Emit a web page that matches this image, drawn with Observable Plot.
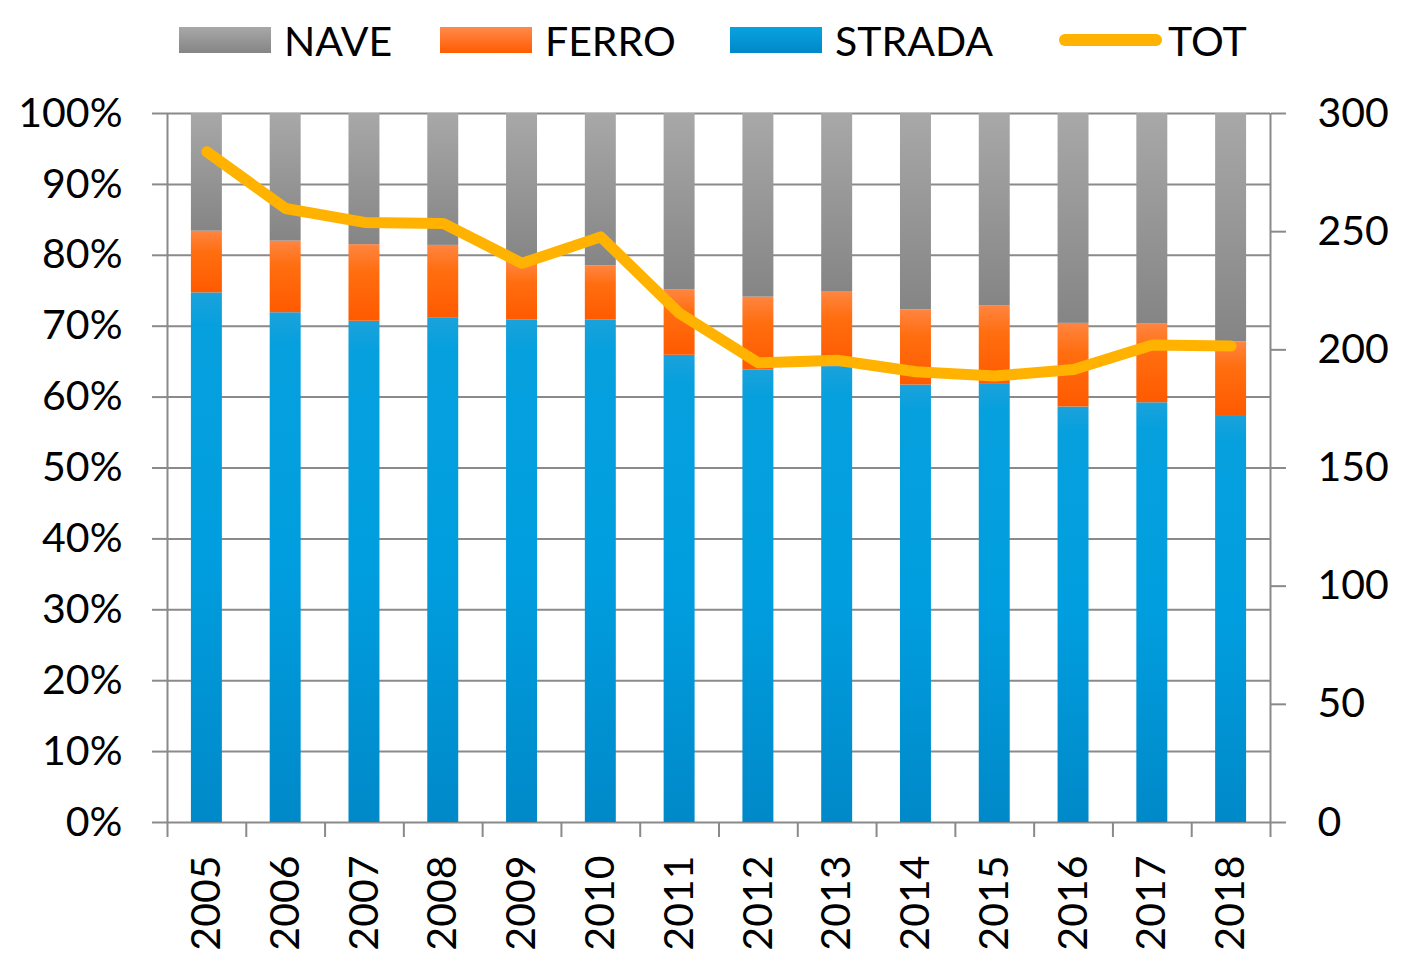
<!DOCTYPE html>
<html>
<head>
<meta charset="utf-8">
<script src="https://cdn.jsdelivr.net/npm/d3@7"></script>
<script src="https://cdn.jsdelivr.net/npm/@observablehq/plot@0.6"></script>
<style>
  body { margin: 0; background: #fff; font-family: Lato, sans-serif; }
  #legend { position: relative; width: 1404px; height: 80px; }
  .item { position: absolute; top: 0; height: 80px; display: flex; align-items: center; font-size: 41px; color: #000; white-space: nowrap; }
  .sw { width: 92px; height: 26px; margin-right: 13px; }
  .ln { width: 103px; height: 12px; border-radius: 6px; background: #ffb200; margin-right: 6px; }
  #chart svg { display: block; }
</style>
</head>
<body>
<div id="legend"></div>
<div id="chart"></div>
<script>
// ---- data ----
const years  = ["2005","2006","2007","2008","2009","2010","2011","2012","2013","2014","2015","2016","2017","2018"];
const strada = [74.7, 71.9, 70.7, 71.2, 70.9, 70.9, 65.9, 63.8, 64.3, 61.7, 61.9, 58.6, 59.2, 57.4]; // % share
const ferro  = [ 8.7, 10.1, 10.8, 10.2,  8.1,  7.6,  9.2, 10.3, 10.5, 10.6, 11.0, 11.8, 11.1, 10.4]; // % share
const nave   = [16.6, 18.0, 18.5, 18.6, 21.0, 21.5, 24.9, 25.9, 25.2, 27.7, 27.1, 29.6, 29.7, 32.2]; // % share
const tot    = [283.8, 259.8, 253.9, 253.5, 236.6, 247.8, 215.4, 194.5, 195.6, 190.7, 188.9, 191.7, 202.0, 201.6];
const modes  = ["STRADA", "FERRO", "NAVE"];
const pctTicks = [0,10,20,30,40,50,60,70,80,90,100];
const totTicks = [0,50,100,150,200,250,300];
const totMax = 300;

// ---- legend ----
const legendItems = [
  {label: "NAVE",   kind: "sw", bg: "linear-gradient(#a8a8a8, #858585)", left: 179},
  {label: "FERRO",  kind: "sw", bg: "linear-gradient(#ff8a4a, #ff5c00)", left: 440},
  {label: "STRADA", kind: "sw", bg: "linear-gradient(#08a2e0, #0088c8)", left: 730},
  {label: "TOT",    kind: "ln", bg: "#ffb200", left: 1059}
];
const leg = document.getElementById("legend");
for (const it of legendItems) {
  const d = document.createElement("div");
  d.className = "item";
  d.style.left = it.left + "px";
  const s = document.createElement("div");
  s.className = it.kind;
  s.style.background = it.bg;
  d.appendChild(s);
  d.appendChild(document.createTextNode(it.label));
  leg.appendChild(d);
}

// ---- chart ----
const W = 1404, H = 887, ML = 167, MR = 134, MT = 33, MB = 145;
const step = (W - ML - MR) / years.length;
const tickLen = 15 / (H - MT - MB);
const grey = "#8a8a8a";

const rows = years.flatMap((y, i) => [
  {year: y, mode: "STRADA", v: strada[i] / 100},
  {year: y, mode: "FERRO",  v: ferro[i] / 100},
  {year: y, mode: "NAVE",   v: nave[i] / 100}
]);
const totRows = years.map((y, i) => ({year: y, v: tot[i] / totMax}));

function defs() {
  const d = d3.create("svg:defs");
  const mk = (id, stops) => {
    const g = d.append("linearGradient").attr("id", id).attr("x1", 0).attr("y1", 0).attr("x2", 0).attr("y2", 1);
    for (const [o, c] of stops) g.append("stop").attr("offset", o).attr("stop-color", c);
  };
  mk("gNave",   [[0, "#a8a8a8"], [1, "#858585"]]);
  mk("gFerro",  [[0, "#ff8540"], [0.35, "#ff6e10"], [1, "#ff5a00"]]);
  mk("gStrada", [[0, "#1ba2da"], [0.06, "#06a0de"], [0.5, "#009edf"], [1, "#0089c9"]]);
  return d.node();
}

const chart = Plot.plot({
  width: W, height: H,
  marginTop: MT, marginBottom: MB, marginLeft: ML, marginRight: MR,
  style: {fontFamily: "Lato, sans-serif", fontSize: "41px", color: "#000", background: "#fff", overflow: "visible"},
  x: {type: "band", domain: years, paddingInner: 0.607, paddingOuter: 0.3035, round: false, label: null},
  y: {domain: [0, 1], label: null},
  color: {type: "ordinal", domain: modes, range: ["url(#gStrada)", "url(#gFerro)", "url(#gNave)"]},
  marks: [
    defs,
    Plot.ruleY(pctTicks.map(d => d / 100), {stroke: grey, strokeWidth: 2}),
    Plot.barY(rows, {x: "year", y: "v", fill: "mode"}),
    Plot.ruleX(years, {x: d => d, y1: -tickLen, y2: 0, dx: -step / 2, stroke: grey, strokeWidth: 2}),
    Plot.ruleX([years[0]], {x: d => d, y1: 0, y2: 1, dx: -step / 2, stroke: grey, strokeWidth: 2}),
    Plot.ruleX([years[years.length - 1]], {x: d => d, y1: -tickLen, y2: 1, dx: step / 2, stroke: grey, strokeWidth: 2}),
    Plot.axisY(pctTicks.map(d => d / 100), {anchor: "left", tickFormat: d => Math.round(d * 100) + "%", tickSize: 15, tickPadding: 30, stroke: grey, strokeWidth: 2, fill: "#000", label: null}),
    Plot.axisY(totTicks.map(d => d / totMax), {anchor: "right", tickFormat: d => String(Math.round(d * totMax)), tickSize: 15, tickPadding: 32, stroke: grey, strokeWidth: 2, fill: "#000", label: null}),
    Plot.axisX({tickSize: 0, tickPadding: 33, tickRotate: -90, fill: "#000", label: null}),
    Plot.line(totRows, {x: "year", y: "v", stroke: "#ffb200", strokeWidth: 11, strokeLinecap: "round", strokeLinejoin: "round"})
  ]
});
document.getElementById("chart").appendChild(chart);
</script>
</body>
</html>
